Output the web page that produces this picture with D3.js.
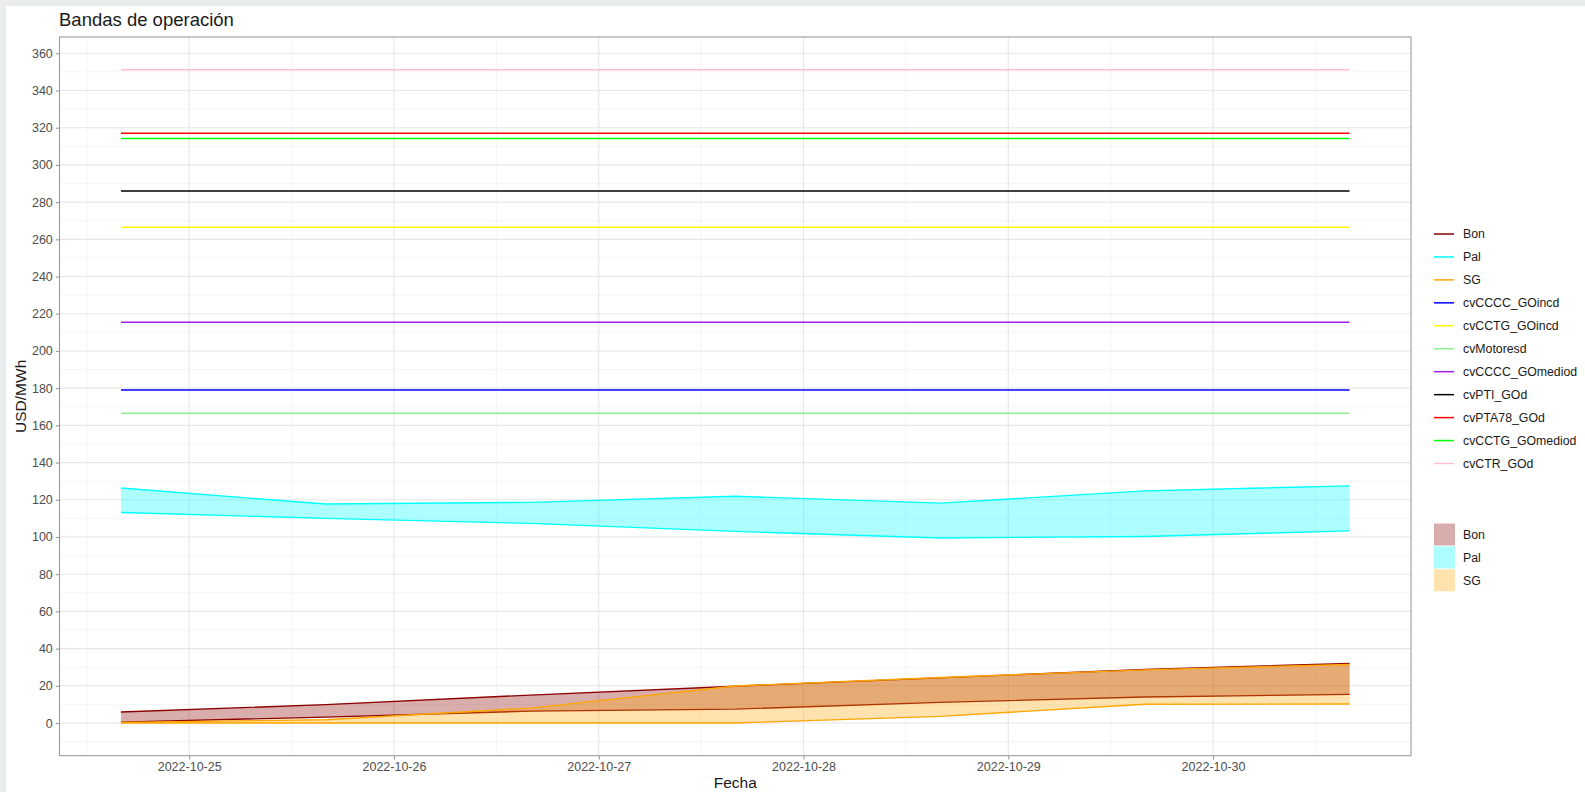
<!DOCTYPE html>
<html>
<head>
<meta charset="utf-8">
<script src="https://cdn.jsdelivr.net/npm/d3@7"></script>
<style>
body { margin: 0; background: #e9eded; }
text { font-family: "Liberation Sans", Arial, sans-serif; }
</style>
</head>
<body>
<svg id="chart" width="1585" height="792"></svg>
<script>
// fechas de cada punto de las bandas
var fechas = ["2022-10-24 16:00", "2022-10-25 16:00", "2022-10-26 16:00", "2022-10-27 16:00",
  "2022-10-28 16:00", "2022-10-29 16:00", "2022-10-30 16:00"];

// bandas (min / max) por central
var bonMin = [0.5, 3.2, 6.4, 7.5, 11.1, 14.0, 15.4];
var bonMax = [5.9, 9.9, 15.0, 19.8, 24.3, 28.8, 32.0];
var palMin = [113.2, 110.0, 107.3, 103.0, 99.5, 100.3, 103.3];
var palMax = [126.3, 117.7, 118.6, 121.9, 118.2, 124.8, 127.5];
var sgMin = [0.0, 0.0, 0.0, 0.0, 3.6, 10.1, 10.2];
var sgMax = [0.3, 1.8, 8.0, 19.9, 24.5, 28.6, 31.5];

// costos variables (constantes en el periodo)
var costos = ["cvCCCC_GOincd", "cvCCTG_GOincd", "cvMotoresd", "cvCCCC_GOmediod",
  "cvPTI_GOd", "cvPTA78_GOd", "cvCCTG_GOmediod", "cvCTR_GOd"];
var costoValores = [179.0, 266.5, 166.5, 215.4, 286.0, 317.0, 314.2, 351.2];

var bandas = ["Bon", "Pal", "SG"];
var yTicks = [0, 20, 40, 60, 80, 100, 120, 140, 160, 180, 200, 220, 240, 260, 280, 300, 320, 340, 360];

// colores de cada serie
var colores = {
  "Bon": "#8b0000", "Pal": "#00ffff", "SG": "#ffa500",
  "cvCCCC_GOincd": "#0000ff", "cvCCTG_GOincd": "#ffff00", "cvMotoresd": "#90ee90",
  "cvCCCC_GOmediod": "#a020f0", "cvPTI_GOd": "#000000", "cvPTA78_GOd": "#ff0000",
  "cvCCTG_GOmediod": "#00ff00", "cvCTR_GOd": "#ffc0cb"
};
var alphaFill = 0.32;

var parse = d3.timeParse("%Y-%m-%d %H:%M");
var fechasD = fechas.map(parse);

var datos = {
  "Bon": fechasD.map(function(f, i) { return {fecha: f, min: bonMin[i], max: bonMax[i]}; }),
  "Pal": fechasD.map(function(f, i) { return {fecha: f, min: palMin[i], max: palMax[i]}; }),
  "SG": fechasD.map(function(f, i) { return {fecha: f, min: sgMin[i], max: sgMax[i]}; })
};

var svg = d3.select("#chart");
svg.append("rect").attr("x", 6).attr("y", 6).attr("width", 1579).attr("height", 786).attr("fill", "#fff");

var panel = {left: 59.5, right: 1411, top: 37, bottom: 755.7};

// escalas con la expansion de 5% como ggplot
var t0 = fechasD[0], t1 = fechasD[fechasD.length - 1];
var dt = (t1 - t0) * 0.05;
var x = d3.scaleTime()
  .domain([new Date(+t0 - dt), new Date(+t1 + dt)])
  .range([panel.left, panel.right]);

var yAll = bonMin.concat(bonMax, palMin, palMax, sgMin, sgMax, costoValores);
var yMin = d3.min(yAll), yMax = d3.max(yAll);
var dy = (yMax - yMin) * 0.05;
var y = d3.scaleLinear()
  .domain([yMin - dy, yMax + dy])
  .range([panel.bottom, panel.top]);

// grilla
var xMajor = d3.timeDay.range(d3.timeDay.ceil(x.domain()[0]), x.domain()[1]);
var xMinor = d3.timeHour.every(12).range(x.domain()[0], x.domain()[1]).filter(function(d) { return d.getHours() === 12; });
var yMinor = yTicks.map(function(v) { return v - 10; }).concat([370]).filter(function(v) { return v >= y.domain()[0] && v <= y.domain()[1]; });

var grid = svg.append("g");
grid.selectAll(".xmin").data(xMinor).enter().append("line")
  .attr("x1", x).attr("x2", x).attr("y1", panel.top).attr("y2", panel.bottom)
  .attr("stroke", "#f2f2f2").attr("stroke-width", 0.8);
grid.selectAll(".ymin").data(yMinor).enter().append("line")
  .attr("x1", panel.left).attr("x2", panel.right).attr("y1", y).attr("y2", y)
  .attr("stroke", "#f2f2f2").attr("stroke-width", 0.8);
grid.selectAll(".xmaj").data(xMajor).enter().append("line")
  .attr("x1", x).attr("x2", x).attr("y1", panel.top).attr("y2", panel.bottom)
  .attr("stroke", "#e6e6e6").attr("stroke-width", 1.1);
grid.selectAll(".ymaj").data(yTicks).enter().append("line")
  .attr("x1", panel.left).attr("x2", panel.right).attr("y1", y).attr("y2", y)
  .attr("stroke", "#e6e6e6").attr("stroke-width", 1.1);

// lineas horizontales de costos
svg.append("g").selectAll("line").data(costos).enter().append("line")
  .attr("x1", x(t0)).attr("x2", x(t1))
  .attr("y1", function(d, i) { return y(costoValores[i]); })
  .attr("y2", function(d, i) { return y(costoValores[i]); })
  .attr("stroke", function(d) { return colores[d]; })
  .attr("stroke-width", 1.5);

// bandas (ribbons)
var area = d3.area()
  .x(function(d) { return x(d.fecha); })
  .y0(function(d) { return y(d.min); })
  .y1(function(d) { return y(d.max); });
var lineMin = d3.line().x(function(d) { return x(d.fecha); }).y(function(d) { return y(d.min); });
var lineMax = d3.line().x(function(d) { return x(d.fecha); }).y(function(d) { return y(d.max); });

bandas.forEach(function(b) {
  var g = svg.append("g");
  g.append("path").datum(datos[b]).attr("d", area)
    .attr("fill", colores[b]).attr("fill-opacity", alphaFill);
  g.append("path").datum(datos[b]).attr("d", lineMin)
    .attr("fill", "none").attr("stroke", colores[b]).attr("stroke-width", 1.4);
  g.append("path").datum(datos[b]).attr("d", lineMax)
    .attr("fill", "none").attr("stroke", colores[b]).attr("stroke-width", 1.4);
});

// borde del panel
svg.append("rect")
  .attr("x", panel.left).attr("y", panel.top)
  .attr("width", panel.right - panel.left).attr("height", panel.bottom - panel.top)
  .attr("fill", "none").attr("stroke", "#9a9a9a").attr("stroke-width", 1.1);

// ejes
var xAxis = svg.append("g")
  .attr("transform", "translate(0," + panel.bottom + ")")
  .call(d3.axisBottom(x).tickValues(xMajor).tickFormat(d3.timeFormat("%Y-%m-%d")).tickSize(3.7).tickPadding(3));
var yAxis = svg.append("g")
  .attr("transform", "translate(" + panel.left + ",0)")
  .call(d3.axisLeft(y).tickValues(yTicks).tickSize(3.7).tickPadding(3));
[xAxis, yAxis].forEach(function(a) {
  a.select(".domain").remove();
  a.selectAll(".tick line").attr("stroke", "#9a9a9a").attr("stroke-width", 1.1);
  a.selectAll(".tick text").attr("fill", "#4d4d4d").attr("font-size", "12.5px")
    .attr("font-family", "'Liberation Sans', Arial, sans-serif");
});

// titulos
svg.append("text").attr("x", 59).attr("y", 26)
  .attr("font-size", "18.5px").attr("fill", "#1a1a1a").text("Bandas de operación");
svg.append("text").attr("x", (panel.left + panel.right) / 2).attr("y", 787.5)
  .attr("text-anchor", "middle").attr("font-size", "15.5px").attr("fill", "#1a1a1a").text("Fecha");
svg.append("text").attr("transform", "translate(26," + (panel.top + panel.bottom) / 2 + ") rotate(-90)")
  .attr("text-anchor", "middle").attr("font-size", "15.5px").attr("fill", "#1a1a1a").text("USD/MWh");

// leyenda de lineas
var nombres = bandas.concat(costos);
var leyenda = svg.append("g").selectAll("g").data(nombres).enter().append("g")
  .attr("transform", function(d, i) { return "translate(1432," + (234 + i * 22.95) + ")"; });
leyenda.append("line")
  .attr("x1", 2).attr("x2", 22).attr("y1", 0).attr("y2", 0)
  .attr("stroke", function(d) { return colores[d]; }).attr("stroke-width", 1.5);
leyenda.append("text")
  .attr("x", 31).attr("dy", "0.35em").attr("font-size", "12.3px").attr("fill", "#1a1a1a")
  .text(function(d) { return d; });

// leyenda de rellenos
var leyendaF = svg.append("g").selectAll("g").data(bandas).enter().append("g")
  .attr("transform", function(d, i) { return "translate(1432," + (534.5 + i * 22.9) + ")"; });
leyendaF.append("rect")
  .attr("x", 2).attr("y", -11).attr("width", 21).attr("height", 22)
  .attr("fill", function(d) { return colores[d]; }).attr("fill-opacity", alphaFill);
leyendaF.append("text")
  .attr("x", 31).attr("dy", "0.35em").attr("font-size", "12.3px").attr("fill", "#1a1a1a")
  .text(function(d) { return d; });
</script>
</body>
</html>
